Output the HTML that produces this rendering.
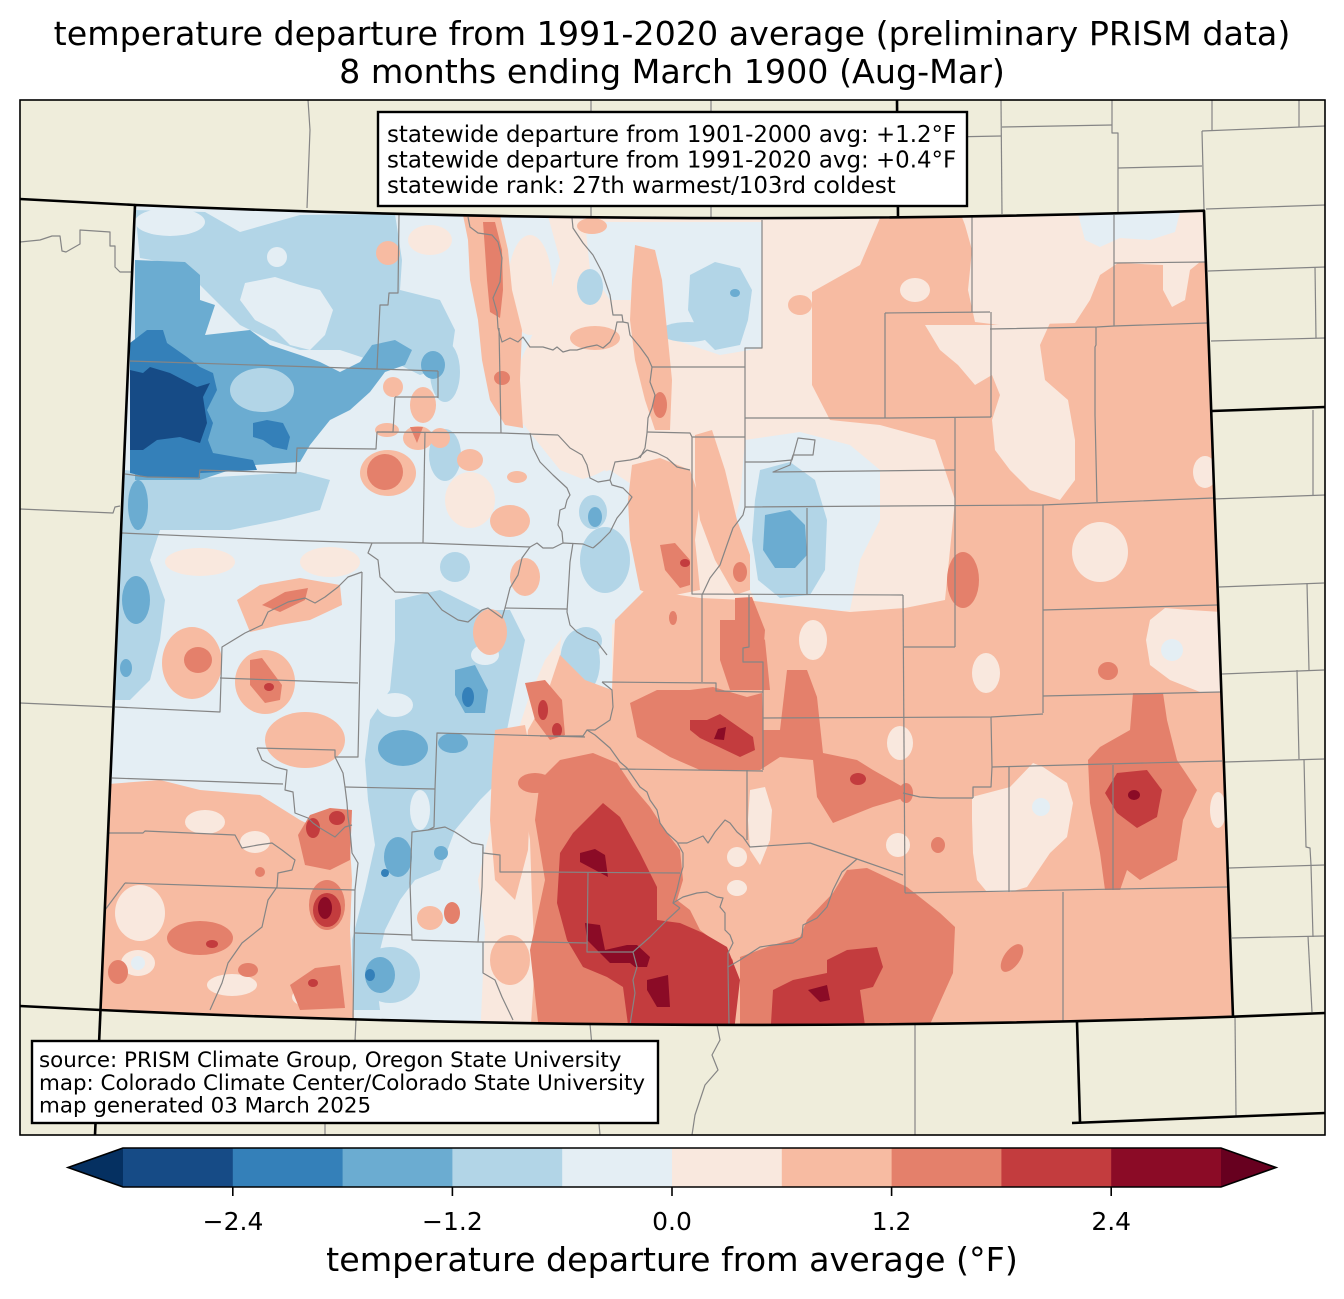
<!DOCTYPE html>
<html><head><meta charset="utf-8"><style>
html,body{margin:0;padding:0;background:#fff;}
svg{display:block;}
text{font-family:"DejaVu Sans","Liberation Sans",sans-serif;fill:#000;}
</style></head><body>
<svg width="1344" height="1299" viewBox="0 0 1344 1299" xmlns="http://www.w3.org/2000/svg">
<defs>
<clipPath id="co"><path d="M135,205 Q669.5,228 1204,210.7 L1233,1016.7 Q668,1036 100.5,1010 Z"/></clipPath>
</defs>
<rect x="0" y="0" width="1344" height="1299" fill="#fff"/>
<text x="672" y="45" font-size="33.3" text-anchor="middle">temperature departure from 1991-2020 average (preliminary PRISM data)</text>
<text x="672" y="83" font-size="33.3" text-anchor="middle">8 months ending March 1900 (Aug-Mar)</text>
<rect x="20" y="100" width="1305" height="1035" fill="#efeddb"/>

<g clip-path="url(#co)">
<rect x="90" y="195" width="1160" height="850" fill="#f9e8de"/>
<!-- c5 -->
<g fill="#e4eef4">
<path d="M95,200 L548,216 L560,260 L548,300 L530,340 L512,380 L520,420 L560,470 L585,480 L605,470 L625,500 L600,545 L575,590 L560,640 L545,660 L528,700 L515,740 L505,790 L490,830 L478,880 L485,930 L480,1040 L345,1040 L350,960 L345,900 L330,860 L300,835 L262,800 L200,790 L95,795 Z"/>
<path d="M585,222 L762,222 L762,348 L720,355 L690,345 L660,335 L640,300 L610,300 L590,270 Z"/>
<path d="M745,440 L800,432 L850,445 L880,470 L880,520 L860,560 L850,610 L800,615 L760,610 L745,580 L730,540 L740,500 Z"/>
<path d="M565,485 L610,470 L640,490 L645,560 L640,600 L612,625 L612,690 L580,680 L560,650 L565,600 L575,560 Z"/>
</g>
<g fill="#f9e8de">
<ellipse cx="330" cy="562" rx="30" ry="15"/><ellipse cx="470" cy="500" rx="25" ry="28"/><ellipse cx="200" cy="562" rx="35" ry="14"/><ellipse cx="530" cy="285" rx="22" ry="50"/><ellipse cx="430" cy="240" rx="22" ry="15"/>
</g>
<!-- c4 -->
<g fill="#b2d5e7">
<path d="M135,210 L205,212 L240,232 L300,215 L395,214 L402,260 L400,290 L440,300 L455,330 L450,365 L420,375 L400,365 L370,360 L340,350 L300,350 L270,340 L240,325 L215,300 L180,265 L140,258 Z"/>
<path d="M125,470 L200,478 L300,472 L330,480 L320,510 L280,520 L230,530 L160,530 L150,560 L165,600 L160,640 L150,680 L130,700 L112,700 L120,540 Z"/>
<path d="M395,600 L440,590 L480,610 L510,610 L525,640 L515,690 L505,740 L500,780 L480,800 L455,830 L440,870 L415,880 L400,900 L385,930 L375,970 L380,1010 L352,1010 L352,940 L365,890 L375,845 L368,800 L365,760 L370,720 L390,690 L395,640 Z"/>
<ellipse cx="590" cy="287" rx="13" ry="18"/>
<path d="M690,275 L715,262 L740,268 L752,290 L748,320 L740,345 L715,350 L700,335 L688,310 Z"/>
<ellipse cx="688" cy="332" rx="28" ry="10"/>
<ellipse cx="445" cy="372" rx="15" ry="30"/>
<ellipse cx="445" cy="455" rx="16" ry="26"/>
<ellipse cx="593" cy="512" rx="14" ry="17"/>
<ellipse cx="605" cy="560" rx="25" ry="33"/>
<path d="M760,470 L790,462 L815,480 L827,520 L825,570 L810,595 L780,598 L758,580 L752,540 L755,500 Z"/>
<ellipse cx="455" cy="567" rx="15" ry="15"/>
<ellipse cx="586" cy="641" rx="16" ry="14"/>
<ellipse cx="580" cy="662" rx="20" ry="33"/>
<ellipse cx="390" cy="975" rx="30" ry="28"/>
</g>
<g fill="#e4eef4">
<ellipse cx="170" cy="222" rx="35" ry="14"/>
<path d="M245,283 L275,277 L300,285 L320,290 L333,310 L325,335 L310,350 L290,345 L275,330 L255,320 L240,300 Z"/>
<ellipse cx="277" cy="257" rx="10" ry="10"/>
<ellipse cx="395" cy="705" rx="18" ry="12"/><ellipse cx="420" cy="810" rx="10" ry="20"/><ellipse cx="485" cy="655" rx="14" ry="10"/>
</g>
<!-- c3 -->
<g fill="#6bacd1">
<path d="M135,260 L185,262 L200,275 L200,300 L215,305 L205,335 L250,330 L270,345 L300,355 L320,362 L340,372 L360,362 L372,345 L395,340 L412,350 L405,365 L385,372 L370,392 L350,410 L330,420 L310,445 L300,462 L255,465 L230,470 L200,480 L135,480 Z"/>
<ellipse cx="433" cy="365" rx="12" ry="14"/>
<ellipse cx="136" cy="600" rx="14" ry="24"/>
<ellipse cx="126" cy="668" rx="6" ry="9"/>
<ellipse cx="138" cy="505" rx="10" ry="25"/>
<path d="M765,515 L790,510 L805,525 L807,555 L795,568 L775,568 L763,550 Z"/>
<ellipse cx="595" cy="517" rx="7" ry="10"/>
<ellipse cx="403" cy="748" rx="25" ry="18"/>
<ellipse cx="453" cy="743" rx="15" ry="10"/>
<path d="M455,670 L475,665 L488,690 L485,713 L465,713 L455,695 Z"/>
<ellipse cx="398" cy="857" rx="14" ry="20"/>
<ellipse cx="380" cy="975" rx="15" ry="18"/>
<ellipse cx="441" cy="853" rx="7" ry="7"/>
<ellipse cx="735" cy="293" rx="5" ry="4"/>
</g>
<ellipse cx="262" cy="390" rx="32" ry="22" fill="#b2d5e7"/>
<!-- c2 -->
<g fill="#3480b9">
<path d="M130,343 L147,330 L163,330 L167,343 L187,357 L200,367 L213,373 L217,390 L207,410 L213,423 L208,440 L213,453 L253,460 L257,470 L200,473 L200,478 L147,477 L130,473 Z"/>
<path d="M253,423 L267,420 L283,423 L290,437 L287,450 L273,447 L263,440 L253,437 Z"/>
<ellipse cx="468" cy="697" rx="6" ry="10"/><ellipse cx="385" cy="873" rx="4" ry="4"/><ellipse cx="370" cy="975" rx="5" ry="6"/>
</g>
<!-- c1 -->
<path fill="#164b86" d="M130,370 L143,373 L150,367 L170,373 L197,387 L210,383 L203,397 L207,423 L200,443 L180,437 L157,440 L143,450 L130,450 Z"/>

<!-- c7 warm east -->
<path fill="#f7bba2" d="M812,292 L860,265 L880,218 L1215,205 L1245,1040 L530,1040 L535,960 L532,900 L530,840 L522,790 L528,730 L545,700 L560,655 L585,680 L612,690 L615,620 L645,590 L700,598 L745,600 L850,612 L905,608 L945,600 L955,500 L935,440 L880,425 L830,420 L812,385 Z"/>
<g fill="#f9e8de">
<path d="M960,212 L1210,208 L1210,262 L1200,262 L1190,270 L1185,300 L1172,307 L1163,290 L1163,265 L1118,263 L1100,275 L1090,300 L1075,323 L1000,325 L975,322 L968,290 L972,250 L965,225 Z"/>
<path d="M990,325 L1050,323 L1040,345 L1045,380 L1068,400 L1075,440 L1075,480 L1060,500 L1030,490 L1010,470 L995,450 L992,420 L1000,395 L988,365 Z"/>
<path d="M925,325 L990,325 L992,375 L975,385 L958,365 L940,350 Z"/>
<ellipse cx="1100" cy="552" rx="28" ry="30"/>
<path d="M1150,620 L1165,608 L1190,610 L1222,612 L1225,692 L1200,692 L1170,680 L1150,665 L1146,640 Z"/>
<ellipse cx="986" cy="673" rx="14" ry="20"/>
<path d="M972,797 L1010,787 L1033,763 L1043,767 L1067,783 L1073,803 L1067,837 L1050,853 L1027,887 L1010,892 L987,892 L977,880 L973,853 L972,820 Z"/>
<ellipse cx="1218" cy="810" rx="8" ry="18"/>
<ellipse cx="900" cy="743" rx="13" ry="17"/>
<ellipse cx="898" cy="845" rx="12" ry="12"/>
<path d="M750,790 L765,787 L772,810 L770,840 L760,865 L750,850 L748,820 Z"/>
<ellipse cx="813" cy="640" rx="14" ry="20"/>
<ellipse cx="737" cy="857" rx="10" ry="10"/>
<ellipse cx="737" cy="888" rx="10" ry="8"/>
<ellipse cx="1205" cy="472" rx="12" ry="16"/>
<ellipse cx="915" cy="290" rx="15" ry="12"/>
</g>
<g fill="#e4eef4">
<path d="M1078,214 L1180,212 L1175,232 L1150,240 L1120,238 L1100,247 L1085,240 Z"/>
<circle cx="1172" cy="650" r="11"/><circle cx="1041" cy="807" r="9"/>
</g>
<!-- c7 west / central -->
<g fill="#f7bba2">
<path d="M463,215 L500,215 L508,250 L512,290 L522,330 L520,380 L523,428 L505,425 L490,400 L482,360 L478,320 L470,280 L468,240 Z"/>
<path d="M635,245 L655,250 L662,280 L667,330 L672,380 L670,430 L655,430 L645,400 L635,360 L630,320 L632,280 Z"/>
<ellipse cx="595" cy="338" rx="25" ry="12"/>
<ellipse cx="592" cy="226" rx="15" ry="8"/>
<ellipse cx="470" cy="460" rx="13" ry="11"/>
<path d="M632,465 L660,458 L690,470 L700,500 L695,540 L700,590 L660,598 L640,590 L630,540 L628,500 Z"/>
<path d="M695,435 L712,430 L725,470 L737,520 L750,555 L750,590 L735,595 L715,560 L700,520 L695,480 Z"/>
<ellipse cx="510" cy="521" rx="20" ry="16"/>
<ellipse cx="517" cy="477" rx="10" ry="6"/>
<ellipse cx="525" cy="577" rx="15" ry="19"/>
<ellipse cx="490" cy="632" rx="17" ry="23"/>
<ellipse cx="388" cy="473" rx="28" ry="23"/>
<ellipse cx="388" cy="253" rx="12" ry="12"/>
<ellipse cx="393" cy="387" rx="10" ry="10"/>
<ellipse cx="423" cy="405" rx="13" ry="18"/>
<ellipse cx="418" cy="438" rx="15" ry="12"/>
<ellipse cx="387" cy="430" rx="12" ry="7"/>
<ellipse cx="440" cy="438" rx="10" ry="10"/>
<ellipse cx="192" cy="663" rx="30" ry="36"/>
<ellipse cx="265" cy="682" rx="30" ry="32"/>
<path d="M237,600 L260,585 L300,578 L340,585 L342,605 L310,620 L280,625 L250,632 Z"/>
<ellipse cx="305" cy="740" rx="40" ry="28"/>
<ellipse cx="800" cy="305" rx="12" ry="10"/>
<path d="M495,730 L525,725 L532,760 L528,850 L515,900 L495,880 L490,820 L492,770 Z"/>
<ellipse cx="510" cy="960" rx="20" ry="25"/>
<ellipse cx="430" cy="918" rx="13" ry="12"/>
<path d="M95,785 L160,780 L200,790 L260,795 L300,820 L330,835 L350,845 L352,880 L350,930 L355,1040 L95,1040 Z"/>
</g>
<g fill="#f9e8de">
<ellipse cx="140" cy="913" rx="25" ry="28"/><ellipse cx="205" cy="822" rx="20" ry="12"/><ellipse cx="310" cy="997" rx="18" ry="10"/><ellipse cx="232" cy="985" rx="25" ry="11"/><ellipse cx="255" cy="842" rx="15" ry="11"/><ellipse cx="138" cy="963" rx="17" ry="13"/>
</g>
<circle cx="138" cy="963" r="7" fill="#e4eef4"/>
<!-- c8 -->
<g fill="#e4806b">
<path d="M483,222 L495,222 L502,250 L503,290 L500,318 L490,312 L487,280 L485,250 Z"/>
<ellipse cx="502" cy="378" rx="8" ry="7"/>
<ellipse cx="660" cy="405" rx="7" ry="13"/>
<path d="M660,545 L675,543 L690,560 L690,585 L680,588 L665,570 Z"/>
<ellipse cx="740" cy="572" rx="7" ry="10"/>
<ellipse cx="673" cy="618" rx="4" ry="7"/>
<path d="M735,598 L752,597 L765,630 L763,655 L745,655 L735,630 Z"/>
<path d="M630,703 L657,690 L690,690 L713,687 L747,697 L762,693 L763,730 L780,730 L787,670 L807,670 L817,697 L823,753 L857,760 L873,770 L903,787 L907,797 L873,807 L833,823 L817,797 L813,760 L780,757 L760,770 L700,770 L670,757 L637,737 Z"/>
<path d="M720,620 L745,620 L765,640 L770,690 L730,690 L720,660 Z"/>
<path d="M525,683 L545,680 L562,700 L565,735 L550,740 L535,720 Z"/>
<path d="M540,780 L560,760 L593,753 L617,763 L633,787 L650,807 L667,833 L680,850 L683,880 L677,900 L690,910 L700,930 L720,945 L733,960 L735,1040 L540,1040 L530,950 L545,880 L535,820 Z"/>
<path d="M740,957 L773,945 L800,937 L807,920 L833,893 L847,870 L867,868 L907,887 L940,913 L955,927 L953,973 L923,1040 L740,1040 Z"/>
<ellipse cx="963" cy="580" rx="16" ry="28"/>
<ellipse cx="1108" cy="671" rx="10" ry="9"/>
<path d="M1133,693 L1163,693 L1167,720 L1177,760 L1197,790 L1183,820 L1177,860 L1140,880 L1127,870 L1120,890 L1105,890 L1100,853 L1090,803 L1088,760 L1100,747 L1130,730 Z"/>
<ellipse cx="938" cy="845" rx="7" ry="8"/>
<ellipse cx="1012" cy="958" rx="8" ry="16" transform="rotate(35 1012 958)"/>
<ellipse cx="906" cy="793" rx="7" ry="10"/>
<ellipse cx="198" cy="660" rx="14" ry="13"/>
<path d="M250,660 L262,658 L282,685 L280,700 L265,703 L250,685 Z"/>
<path d="M262,605 L285,592 L308,588 L305,600 L280,612 Z"/>
<ellipse cx="385" cy="472" rx="18" ry="18"/>
<path d="M410,427 L423,427 L417,443 Z"/>
<ellipse cx="200" cy="938" rx="33" ry="17"/>
<ellipse cx="118" cy="972" rx="10" ry="12"/>
<ellipse cx="248" cy="970" rx="10" ry="7"/>
<path d="M290,985 L315,968 L340,965 L345,1008 L300,1010 Z"/>
<path d="M298,835 L310,815 L330,808 L352,810 L350,860 L330,870 L305,865 Z"/>
<ellipse cx="260" cy="872" rx="5" ry="5"/>
<ellipse cx="535" cy="783" rx="17" ry="10"/>
<ellipse cx="327" cy="905" rx="18" ry="25"/>
<ellipse cx="452" cy="913" rx="8" ry="11"/>
</g>
<!-- c9 -->
<g fill="#c33c3e">
<path d="M560,853 L573,833 L603,803 L620,817 L640,853 L657,887 L657,920 L680,923 L703,933 L727,947 L740,980 L733,1040 L630,1040 L623,987 L607,977 L583,967 L567,940 L557,903 Z"/>
<path d="M690,720 L707,720 L720,714 L753,737 L755,750 L740,757 L700,738 L690,730 Z"/>
<path d="M773,990 L793,980 L827,973 L827,960 L847,950 L877,947 L883,967 L873,987 L860,990 L867,1040 L770,1040 Z"/>
<ellipse cx="858" cy="779" rx="8" ry="6"/>
<path d="M1117,773 L1147,770 L1162,790 L1157,817 L1137,828 L1117,813 L1105,793 Z"/>
<ellipse cx="327" cy="910" rx="14" ry="17"/>
<ellipse cx="313" cy="828" rx="7" ry="10"/>
<ellipse cx="337" cy="818" rx="8" ry="7"/>
<ellipse cx="269" cy="687" rx="5" ry="4"/>
<ellipse cx="543" cy="710" rx="5" ry="10"/>
<ellipse cx="557" cy="730" rx="5" ry="7"/>
<ellipse cx="685" cy="563" rx="5" ry="4"/>
<ellipse cx="313" cy="983" rx="5" ry="4"/>
<ellipse cx="212" cy="944" rx="6" ry="4"/>
</g>
<!-- c10 -->
<g fill="#8b0b26">
<path d="M580,853 L595,849 L605,855 L608,877 L595,870 L580,862 Z"/>
<path d="M585,923 L600,925 L605,950 L627,945 L637,945 L650,957 L647,967 L635,967 L630,963 L610,963 L587,940 Z"/>
<path d="M647,980 L668,975 L670,1007 L657,1007 L647,990 Z"/>
<path d="M718,729 L726,727 L724,740 L714,739 Z"/>
<path d="M808,990 L827,985 L830,1000 L820,1002 Z"/>
<ellipse cx="1134" cy="795" rx="6" ry="5"/>
<ellipse cx="325" cy="908" rx="7" ry="11"/>
</g>
</g>

<!-- county lines -->
<g fill="none" stroke="#858585" stroke-width="1.2" stroke-linejoin="round">
<polyline points="130,361 377,369 438,371"/>
<polyline points="377,369 378,347 380,305 388,305 389,293 398,293 399,215"/>
<polyline points="438,371 438,398"/>
<polyline points="395,397 438,397"/>
<polyline points="395,397 393,432 377,432 376,449 297,448 296,473 200,470 199,478 147,477 125,474"/>
<polyline points="377,432 501,433 558,435"/>
<polyline points="425,432 423,543"/>
<polyline points="122,533 282,540 372,543 423,543 530,547 537,543 543,548 553,548 563,543 583,544 593,548"/>
<polyline points="468,217 470,227 478,233 492,235 498,242 502,258 500,282 493,298 497,312 498,328 502,342 510,338 518,342 523,337 530,347 543,347 553,350 557,347 563,352 570,350 577,350 587,347 597,345 603,348 610,342 615,332 617,322 623,322 628,323 630,335 640,347 648,358 652,367"/>
<polyline points="572,218 573,228 583,243 593,255 602,272 610,295 613,315 622,315 623,322"/>
<polyline points="499,328 501,433"/>
<polyline points="558,435 570,448 582,455 587,465 590,478 598,482 610,480 615,462 630,460 638,458 647,450 657,453 667,458 677,467 690,470"/>
<polyline points="610,480 612,485 623,488 632,497 627,505 622,512 617,518 610,532 600,542 593,548"/>
<polyline points="530,433 533,448 540,462 553,475 567,488 570,495 567,500 565,508 560,510 558,525 562,532 563,543"/>
<polyline points="573,543 570,562 568,595 567,612 570,625 577,632 587,638 597,642 607,655"/>
<polyline points="372,543 368,553 378,560 380,577 395,592 428,593 442,610 458,620 468,622 482,610 488,608 502,618 505,608 510,588 518,575 522,558 530,547"/>
<polyline points="505,608 567,609"/>
<polyline points="652,367 745,367 745,348 762,348 762,220"/>
<polyline points="652,367 650,382 655,395 652,408 648,418 647,433 645,448 640,458"/>
<polyline points="647,432 690,433 692,437 745,437"/>
<polyline points="692,437 692,594 903,595"/>
<polyline points="745,367 745,418 890,418 991,417"/>
<polyline points="885,313 885,418"/>
<polyline points="745,418 745,462 770,462 792,460 798,438 815,440 813,455 793,455 790,465 773,472 955,470"/>
<polyline points="745,462 745,507 743,515 733,528 728,542 720,565 710,578 702,595 702,682"/>
<polyline points="745,507 1042,505 1213,498"/>
<polyline points="807,508 807,594"/>
<polyline points="749,595 749,647 743,648 743,662 763,662 763,770"/>
<polyline points="972,217 972,312"/>
<polyline points="885,313 990,312"/>
<polyline points="991,312 991,417"/>
<polyline points="990,329 1097,327 1114,326 1207,323"/>
<polyline points="1114,215 1114,326"/>
<polyline points="1114,263 1205,262"/>
<polyline points="1096,327 1096,345 1095,347 1095,415 1097,502"/>
<polyline points="955,418 955,647"/>
<polyline points="1043,505 1043,713"/>
<polyline points="1043,610 1217,605"/>
<polyline points="1043,696 1220,692"/>
<polyline points="903,647 955,647"/>
<polyline points="903,595 905,893"/>
<polyline points="763,718 991,717 1043,714"/>
<polyline points="991,717 992,767 991,787 973,787 973,798"/>
<polyline points="992,767 1222,761"/>
<polyline points="1009,767 1009,892"/>
<polyline points="1113,765 1113,890"/>
<polyline points="905,893 1227,887"/>
<polyline points="903,793 920,797 940,798 973,798"/>
<polyline points="1063,892 1063,1022"/>
<polyline points="602,682 716,683 716,691 763,692"/>
<polyline points="602,682 612,690 613,707 610,720 595,730 587,730 583,736 540,736"/>
<polyline points="587,730 595,735 610,748 620,762 627,768 640,787 647,792 650,800 657,810 660,823 667,833 677,842 683,853 683,867 680,877 677,890 673,903 680,908"/>
<polyline points="678,843 687,843 703,836 708,843 715,832 725,820 730,823 737,832 743,837 750,847 810,843 857,859 903,875"/>
<polyline points="747,770 747,840"/>
<polyline points="680,908 667,920 650,937 633,952 637,967 633,980 635,993 630,1025"/>
<polyline points="540,872 680,873"/>
<polyline points="588,872 587,952 633,952"/>
<polyline points="540,942 587,943"/>
<polyline points="673,903 683,897 697,893 707,892 717,897 723,898 720,907 725,913 725,930 730,935 733,943 728,953 728,967 729,1025"/>
<polyline points="728,967 740,960 760,947 773,945 793,943 802,937 803,925 817,918 827,907 833,890 842,872 857,859"/>
<polyline points="620,769 763,771"/>
<polyline points="362,572 358,757 335,757 335,750 257,748"/>
<polyline points="362,572 348,577 338,587 325,597 315,603 305,598 288,602 268,612 262,625 245,633 222,647 220,712 115,707"/>
<polyline points="220,678 358,683"/>
<polyline points="257,748 262,760 275,767 287,770 285,790 293,792 295,813 308,818 313,823 320,828 335,837 345,827 352,825"/>
<polyline points="112,778 283,784"/>
<polyline points="335,757 343,773 345,787 347,803 348,817 350,830 352,853 358,863 355,890 353,1020"/>
<polyline points="345,787 435,789"/>
<polyline points="435,789 437,733 585,737"/>
<polyline points="435,789 434,827 428,830 412,832 410,883 412,940 478,942 482,887 483,847"/>
<polyline points="428,830 445,827 455,832 472,843 483,845 483,853 500,855 500,872 540,872"/>
<polyline points="478,942 540,942"/>
<polyline points="355,933 412,935"/>
<polyline points="483,942 483,973 495,980 502,997 513,1020"/>
<polyline points="108,833 143,833 145,831 235,835 242,848 258,845 272,843 282,850 295,860 292,870 278,873 277,887 268,900 262,927 242,943 228,963 222,983 210,1010"/>
<polyline points="125,883 105,910"/>
<polyline points="125,883 277,888 355,890"/>
<!-- outside -->
<polyline points="308,100 310,130 307,208"/>
<polyline points="591,100 591,217"/>
<polyline points="711,100 711,219"/>
<polyline points="20,242 40,240 52,236 60,236 62,251 66,252 80,244 80,230 110,232 110,246 115,246 115,267 120,272 131,272"/>
<polyline points="20,509 113,513 115,507 120,506"/>
<polyline points="20,703 112,707"/>
<polyline points="1001,100 1002,214"/>
<polyline points="898,138 1001,136"/>
<polyline points="1002,127 1112,125"/>
<polyline points="1112,100 1112,133 1118,133 1118,213"/>
<polyline points="1118,168 1202,166"/>
<polyline points="1202,131 1204,210"/>
<polyline points="1202,131 1325,126"/>
<polyline points="1212,100 1212,130"/>
<polyline points="1299,100 1299,127"/>
<polyline points="1206,209 1325,205"/>
<polyline points="1208,271 1325,267"/>
<polyline points="1315,267 1316,338"/>
<polyline points="1211,341 1325,338"/>
<polyline points="1213,499 1325,495"/>
<polyline points="1313,410 1313,495"/>
<polyline points="1219,587 1324,583"/>
<polyline points="1307,583 1309,670"/>
<polyline points="1222,674 1324,670"/>
<polyline points="1297,670 1299,759"/>
<polyline points="1225,762 1324,759"/>
<polyline points="1304,759 1306,847 1310,848 1311,865"/>
<polyline points="1229,868 1324,865"/>
<polyline points="1311,865 1313,937"/>
<polyline points="1232,938 1324,936"/>
<polyline points="1308,936 1312,1012"/>
<polyline points="1235,1016 1236,1116"/>
<polyline points="356,1020 355,1041"/>
<polyline points="325,1123 325,1135"/>
<polyline points="590,1024 600,1135"/>
<polyline points="717,1025 720,1040 712,1055 718,1070 705,1085 700,1100 695,1115 692,1135"/>
<polyline points="915,1025 915,1135"/>
</g>

<!-- state lines -->
<g fill="none" stroke="#000" stroke-width="2.6" stroke-linejoin="round">
<path d="M135,205 Q669.5,228 1204,210.7 L1233,1016.7 Q668,1036 100.5,1010 Z"/>
<path d="M20,199 L135,205"/>
<path d="M20,1006 L100.5,1010"/>
<path d="M1233,1016.7 L1325,1013"/>
<path d="M897,100 L898,216"/>
<path d="M1212,411 L1325,407"/>
<path d="M100.5,1010 L95,1135"/>
<path d="M1077,1022 L1080,1122"/>
<path d="M1072,1123 L1325,1113"/>
</g>
<rect x="20" y="100" width="1305" height="1035" fill="none" stroke="#000" stroke-width="1.6"/>

<!-- info boxes -->
<rect x="378" y="112" width="589" height="94" fill="#fff" stroke="#000" stroke-width="2.4"/>
<text x="387" y="142" font-size="22.9">statewide departure from 1901-2000 avg: +1.2°F</text>
<text x="387" y="167.5" font-size="22.9">statewide departure from 1991-2020 avg: +0.4°F</text>
<text x="387" y="193" font-size="22.9">statewide rank: 27th warmest/103rd coldest</text>

<rect x="32" y="1041" width="626" height="82" fill="#fff" stroke="#000" stroke-width="2.4"/>
<text x="39" y="1067" font-size="21.4">source: PRISM Climate Group, Oregon State University</text>
<text x="39" y="1090" font-size="21.4">map: Colorado Climate Center/Colorado State University</text>
<text x="39" y="1112.5" font-size="21.4">map generated 03 March 2025</text>

<!-- colorbar -->
<polygon points="123,1148 68,1167.5 123,1187" fill="#053061"/>
<polygon points="1221,1148 1276,1167.5 1221,1187" fill="#67001f"/>
<rect x="123" y="1148" width="110.3" height="39" fill="#164b86"/>
<rect x="232.8" y="1148" width="110.3" height="39" fill="#3480b9"/>
<rect x="342.6" y="1148" width="110.3" height="39" fill="#6bacd1"/>
<rect x="452.4" y="1148" width="110.3" height="39" fill="#b2d5e7"/>
<rect x="562.2" y="1148" width="110.3" height="39" fill="#e4eef4"/>
<rect x="672" y="1148" width="110.3" height="39" fill="#f9e8de"/>
<rect x="781.8" y="1148" width="110.3" height="39" fill="#f7bba2"/>
<rect x="891.6" y="1148" width="110.3" height="39" fill="#e4806b"/>
<rect x="1001.4" y="1148" width="110.3" height="39" fill="#c33c3e"/>
<rect x="1111.2" y="1148" width="109.8" height="39" fill="#8b0b26"/>
<path d="M123,1148 L68,1167.5 L123,1187 L1221,1187 L1276,1167.5 L1221,1148 Z" fill="none" stroke="#000" stroke-width="1.6"/>
<g stroke="#000" stroke-width="1.6">
<line x1="232.8" y1="1187" x2="232.8" y2="1196"/>
<line x1="452.4" y1="1187" x2="452.4" y2="1196"/>
<line x1="672" y1="1187" x2="672" y2="1196"/>
<line x1="891.6" y1="1187" x2="891.6" y2="1196"/>
<line x1="1111.2" y1="1187" x2="1111.2" y2="1196"/>
</g>
<g font-size="25" text-anchor="middle">
<text x="233" y="1230">−2.4</text>
<text x="452.4" y="1230">−1.2</text>
<text x="672" y="1230">0.0</text>
<text x="891.6" y="1230">1.2</text>
<text x="1111.2" y="1230">2.4</text>
</g>
<text x="672" y="1271" font-size="33.3" text-anchor="middle">temperature departure from average (°F)</text>
</svg>
</body></html>
